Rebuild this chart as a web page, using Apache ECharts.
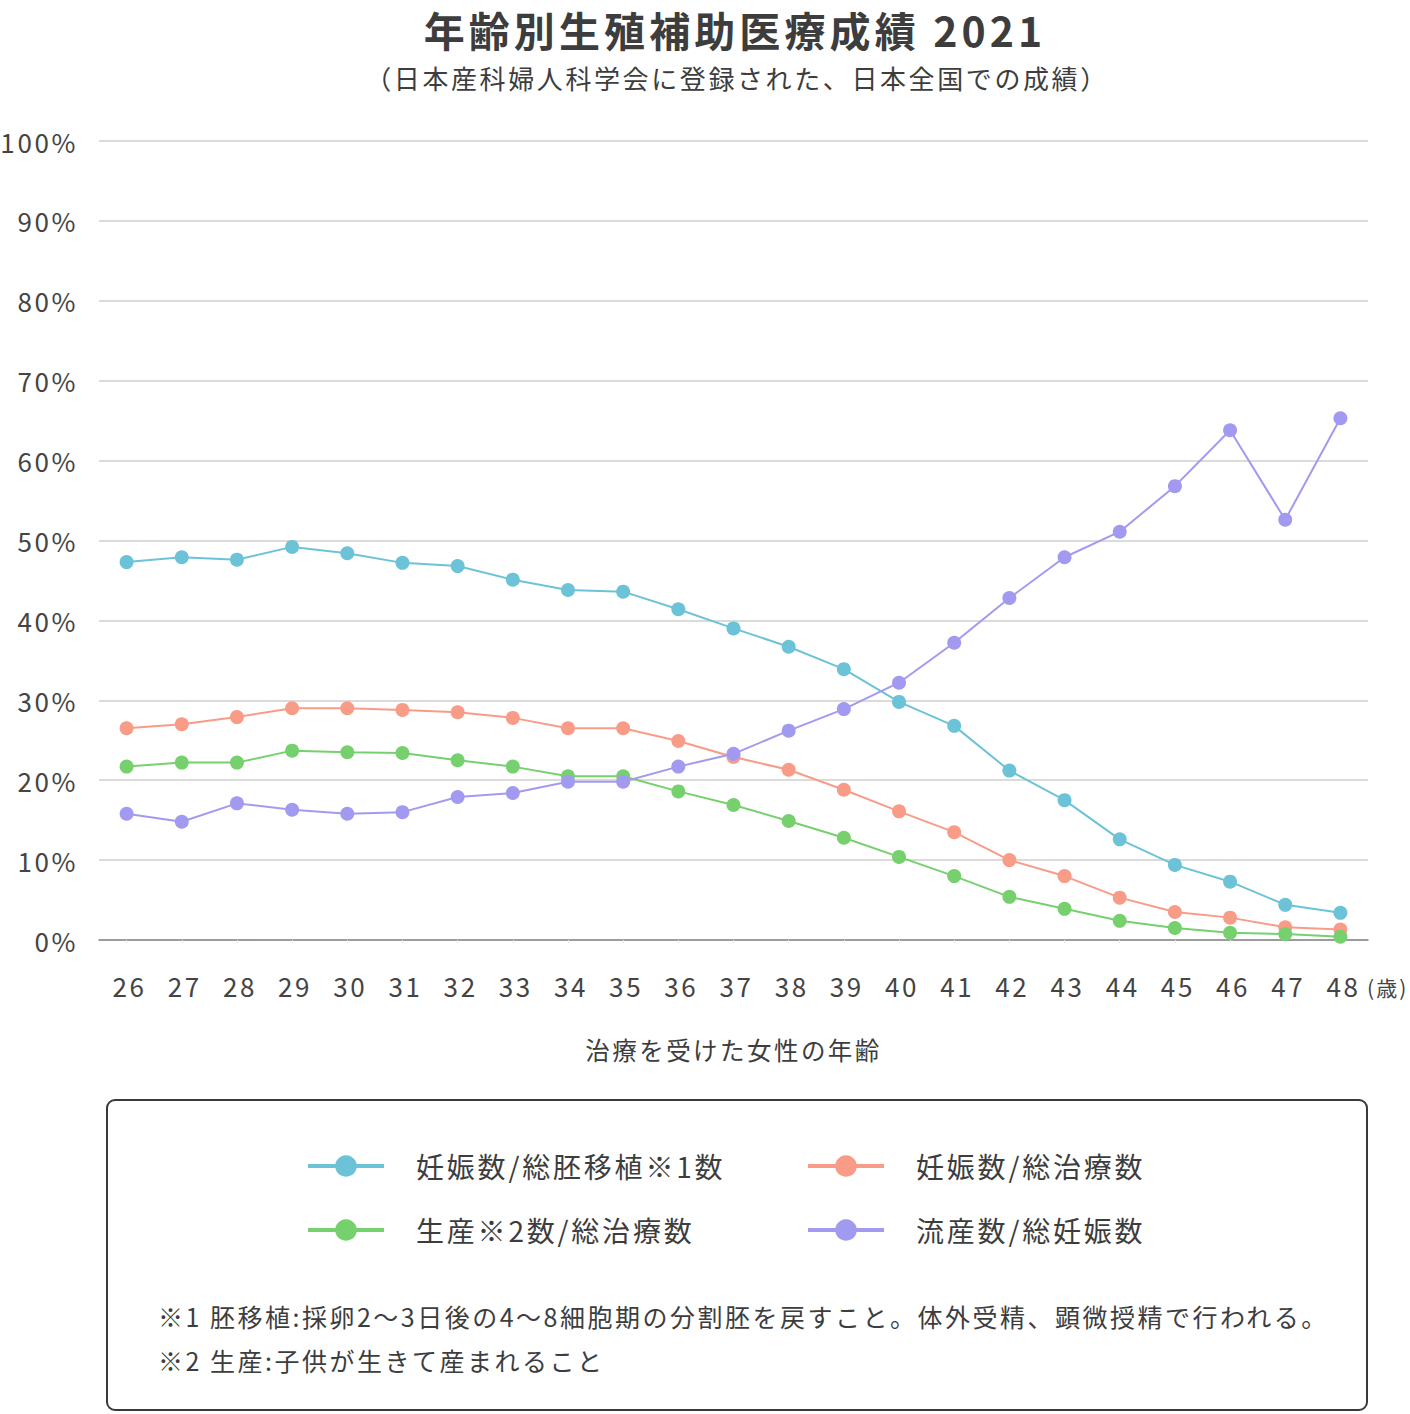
<!DOCTYPE html>
<html><head><meta charset="utf-8">
<script src="https://cdn.jsdelivr.net/npm/echarts@6/dist/echarts.min.js"></script>
<style>html,body{margin:0;padding:0;background:#fff}#c{width:1410px;height:1414px}#c text{letter-spacing:0.1em}</style>
</head><body><div id="c"></div>
<script>
const ages = ['26','27','28','29','30','31','32','33','34','35','36','37','38','39','40','41','42','43','44','45','46','47','48'];
const yTicks = [0,10,20,30,40,50,60,70,80,90,100];
const seriesNames = ['妊娠数/総胚移植※1数','妊娠数/総治療数','生産※2数/総治療数','流産数/総妊娠数'];
const pregPerTransfer = [47.3,47.9,47.6,49.2,48.4,47.2,46.8,45.1,43.8,43.6,41.4,39.0,36.7,33.9,29.8,26.8,21.2,17.5,12.6,9.4,7.3,4.4,3.4];
const pregPerTreatment = [26.5,27.0,27.9,29.0,29.0,28.8,28.5,27.8,26.5,26.5,24.9,22.9,21.3,18.8,16.1,13.5,10.0,8.0,5.3,3.5,2.8,1.6,1.3];
const livePerTreatment = [21.7,22.2,22.2,23.7,23.5,23.4,22.5,21.7,20.5,20.5,18.6,16.9,14.9,12.8,10.4,8.0,5.4,3.9,2.4,1.5,0.9,0.75,0.4];
const miscarriagePerPreg = [15.8,14.8,17.1,16.3,15.8,16.0,17.9,18.4,19.8,19.8,21.7,23.3,26.2,28.9,32.2,37.2,42.8,47.9,51.1,56.8,63.8,52.6,65.3];
const colors = ['#6cc3d7','#f99c87','#76d06d','#a29af0'];

const FONT = '"Noto Sans CJK JP","Noto Sans",sans-serif';
const chart = echarts.init(document.getElementById('c'), null, {renderer:'svg'});
const datas = [pregPerTransfer, pregPerTreatment, livePerTreatment, miscarriagePerPreg];
const legendPos = [[306,1152],[806,1152],[306,1216],[806,1216]];

chart.setOption({
  animation:false,
  textStyle:{fontFamily:FONT},
  grid:{left:99, right:42, top:141, bottom:474, containLabel:false},
  xAxis:{type:'category', data:ages, boundaryGap:true,
    name:'治療を受けた女性の年齢', nameLocation:'middle', nameGap:97,
    nameTextStyle:{fontFamily:FONT,fontSize:24.5,color:'#3d3d3d'},
    axisLine:{lineStyle:{color:'#888',width:1.5}},
    axisTick:{show:true, alignWithLabel:true, length:3, lineStyle:{color:'#e6e6e6'}},
    axisLabel:{fontFamily:FONT,fontSize:26,color:'#444',margin:32,padding:[0,0,0,6]}
  },
  yAxis:{type:'value', min:0, max:100, interval:10,
    axisLine:{show:false}, axisTick:{show:false},
    splitLine:{lineStyle:{color:'#cfcfcf',width:1.5}},
    axisLabel:{fontFamily:FONT,fontSize:26,color:'#444',margin:21,formatter:v=>v+'%'}
  },
  legend: legendPos.map((p,i)=>({
    data:[seriesNames[i]], left:p[0], top:p[1], padding:0, itemWidth:76, itemHeight:27,
    lineStyle:{width:4},
    textStyle:{fontFamily:FONT,fontSize:28,color:'#3d3d3d',padding:[0,0,0,27]}
  })),
  series: seriesNames.map((n,i)=>({
    name:n, type:'line', data:datas[i], symbol:'circle', symbolSize:14,
    itemStyle:{color:colors[i]}, lineStyle:{color:colors[i],width:2}, z: i===3?3:2
  })),
  graphic:[
    {type:'text', x:735, y:29, style:{text:'年齢別生殖補助医療成績 2021',fontFamily:FONT,fontSize:41,fontWeight:'bold',fill:'#3d3d3d',align:'center',verticalAlign:'middle'}},
    {type:'text', x:737, y:64, style:{text:'（日本産科婦人科学会に登録された、日本全国での成績）',fontFamily:FONT,fontSize:26,fill:'#3d3d3d',align:'center'}},
    {type:'text', x:1367, y:976, style:{text:'(歳)',fontFamily:FONT,fontSize:21,fill:'#444'}},
    {type:'rect', shape:{x:107,y:1100,width:1260,height:310,r:8},
     style:{fill:'none',stroke:'#3a3a3a',lineWidth:2}},
    {type:'text', x:158, y:1303, style:{text:'※1 胚移植:採卵2〜3日後の4〜8細胞期の分割胚を戻すこと。体外受精、顕微授精で行われる。',fontFamily:FONT,fontSize:25,fill:'#3d3d3d'}},
    {type:'text', x:158, y:1347, style:{text:'※2 生産:子供が生きて産まれること',fontFamily:FONT,fontSize:25,fill:'#3d3d3d'}}
  ]
});
</script></body></html>
